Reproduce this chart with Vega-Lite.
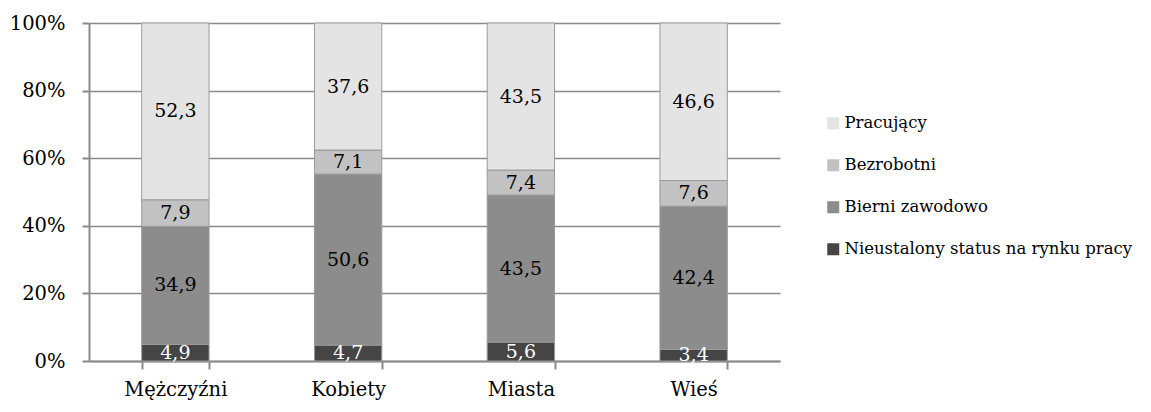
{
  "$schema": "https://vega.github.io/schema/vega-lite/v6.json",
  "width": 691,
  "height": 338,
  "autosize": {"type": "none"},
  "padding": {"left": 89, "top": 23, "right": 371, "bottom": 51},
  "background": "white",
  "config": {
    "view": {"stroke": null},
    "font": "DejaVu Serif",
    "locale": {"number": {"decimal": ",", "thousands": " ", "grouping": [3], "currency": ["", " zł"]}},
    "axis": {"labelFont": "DejaVu Serif", "labelFontSize": 19.5, "labelColor": "#000000", "domainColor": "#8a8a8a", "tickColor": "#8a8a8a", "gridColor": "#8a8a8a", "domainWidth": 2, "tickWidth": 2, "gridWidth": 1.5, "title": null},
    "legend": {"labelFont": "DejaVu Serif", "labelFontSize": 16.5, "labelColor": "#000000"}
  },
  "data": {
    "values": [
      {"g": "Mężczyźni", "s": "Nieustalony status na rynku pracy", "k": 1, "v": 4.9},
      {"g": "Mężczyźni", "s": "Bierni zawodowo", "k": 2, "v": 34.9},
      {"g": "Mężczyźni", "s": "Bezrobotni", "k": 3, "v": 7.9},
      {"g": "Mężczyźni", "s": "Pracujący", "k": 4, "v": 52.3},
      {"g": "Kobiety", "s": "Nieustalony status na rynku pracy", "k": 1, "v": 4.7},
      {"g": "Kobiety", "s": "Bierni zawodowo", "k": 2, "v": 50.6},
      {"g": "Kobiety", "s": "Bezrobotni", "k": 3, "v": 7.1},
      {"g": "Kobiety", "s": "Pracujący", "k": 4, "v": 37.6},
      {"g": "Miasta", "s": "Nieustalony status na rynku pracy", "k": 1, "v": 5.6},
      {"g": "Miasta", "s": "Bierni zawodowo", "k": 2, "v": 43.5},
      {"g": "Miasta", "s": "Bezrobotni", "k": 3, "v": 7.4},
      {"g": "Miasta", "s": "Pracujący", "k": 4, "v": 43.5},
      {"g": "Wieś", "s": "Nieustalony status na rynku pracy", "k": 1, "v": 3.4},
      {"g": "Wieś", "s": "Bierni zawodowo", "k": 2, "v": 42.4},
      {"g": "Wieś", "s": "Bezrobotni", "k": 3, "v": 7.6},
      {"g": "Wieś", "s": "Pracujący", "k": 4, "v": 46.6}
    ]
  },
  "encoding": {
    "x": {
      "field": "g", "type": "nominal", "sort": ["Mężczyźni", "Kobiety", "Miasta", "Wieś"],
      "scale": {"paddingInner": 0.61, "paddingOuter": 0.305},
      "axis": {"labelAngle": 0, "tickBand": "extent", "tickSize": 8, "labelPadding": 11, "grid": false}
    },
    "y": {
      "field": "v", "type": "quantitative", "stack": "zero",
      "scale": {"domain": [0, 100], "nice": false},
      "axis": {"values": [0, 20, 40, 60, 80, 100], "labelExpr": "datum.value + '%'", "tickSize": 7, "labelPadding": 17, "grid": true}
    },
    "order": {"field": "k", "type": "quantitative", "sort": "ascending"}
  },
  "layer": [
    {
      "mark": {"type": "bar", "stroke": "#9a9a9a", "strokeWidth": 1},
      "encoding": {
        "color": {
          "field": "s", "type": "nominal",
          "scale": {
            "domain": ["Pracujący", "Bezrobotni", "Bierni zawodowo", "Nieustalony status na rynku pracy"],
            "range": ["#e4e4e4", "#c2c2c2", "#8c8c8c", "#454545"]
          },
          "legend": {
            "orient": "none", "legendX": 736, "legendY": 92, "title": null,
            "symbolType": "square", "symbolSize": 144, "symbolStrokeWidth": 0,
            "labelOffset": 3, "rowPadding": 25, "labelLimit": 400
          }
        }
      }
    },
    {
      "mark": {"type": "text", "font": "DejaVu Serif", "fontSize": 19, "baseline": "middle", "align": "center"},
      "encoding": {
        "y": {"field": "v", "type": "quantitative", "stack": "zero", "bandPosition": 0.5},
        "text": {"field": "v", "type": "quantitative", "format": ".1f"},
        "color": {
          "condition": {"test": "datum.s === 'Nieustalony status na rynku pracy'", "value": "#ffffff"},
          "value": "#000000"
        }
      }
    }
  ]
}
